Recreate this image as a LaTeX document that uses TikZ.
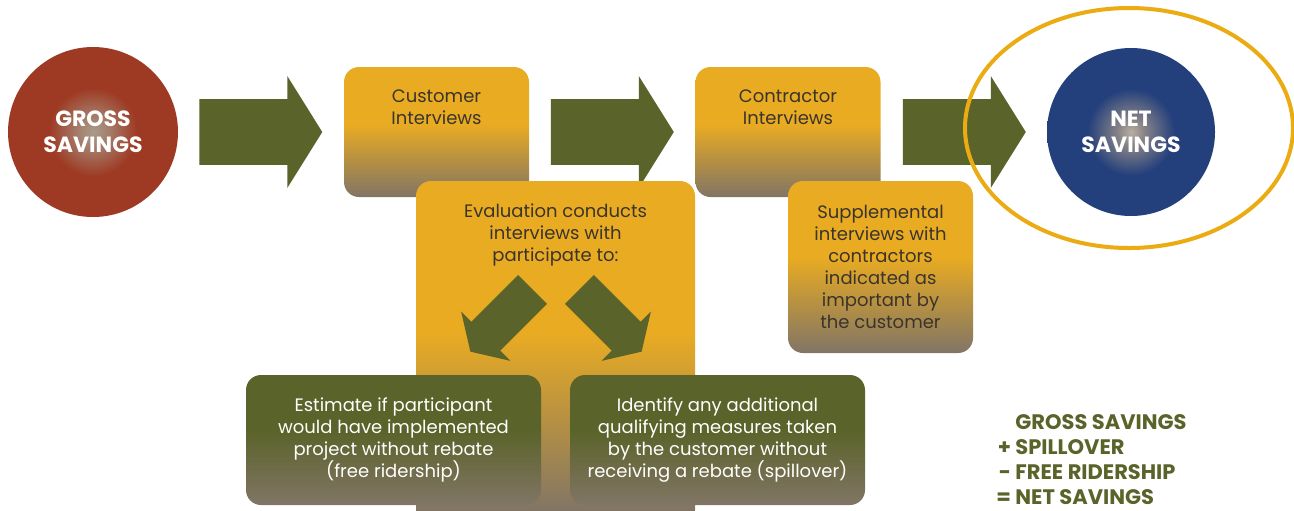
\documentclass[tikz,border=0pt]{standalone}
\usepackage{fontspec}
\setmainfont{Poppins}
\usetikzlibrary{shapes.arrows, positioning}

\definecolor{rust}{HTML}{9E3A23}
\definecolor{navy}{HTML}{233F7C}
\definecolor{glow}{HTML}{A89A8A}
\definecolor{gold}{HTML}{E9AB22}
\definecolor{taupe}{HTML}{817565}
\definecolor{olive}{HTML}{5A6329}
\definecolor{ring}{HTML}{EBAB12}
\definecolor{ink}{HTML}{3A342C}

\pgfdeclareverticalshading{goldfade}{100bp}{color(0bp)=(taupe); color(25bp)=(taupe); color(53bp)=(gold); color(100bp)=(gold)}
\pgfdeclareverticalshading{evalfade}{100bp}{color(0bp)=(taupe); color(27bp)=(taupe); color(53bp)=(gold); color(100bp)=(gold)}
\pgfdeclareverticalshading{olivefade}{100bp}{color(0bp)=(taupe); color(25bp)=(taupe); color(54bp)=(olive); color(100bp)=(olive)}
\pgfdeclareradialshading{grossglow}{\pgfpoint{0bp}{0bp}}{color(0bp)=(glow); color(4bp)=(glow!75!rust); color(13bp)=(rust); color(50bp)=(rust)}
\pgfdeclareradialshading{netglow}{\pgfpoint{0bp}{0bp}}{color(0bp)=(glow!80!white); color(4bp)=(glow!75!navy); color(13bp)=(navy); color(50bp)=(navy)}

\tikzset{
  bigarrow/.style={single arrow, fill=olive, inner xsep=0pt, inner ysep=16.25pt, minimum height=61.5pt,
    single arrow head extend=11.5pt, single arrow tip angle=116},
  smallarrow/.style={bigarrow, minimum height=44pt, inner ysep=10pt, single arrow head extend=7.25pt},
  savings/.style={circle, minimum size=85pt, inner sep=0pt,
    text=white, align=center, font=\bfseries\fontsize{11}{13}\selectfont},
  goldbox/.style={rounded corners=7.5pt, shading=goldfade, inner sep=0pt, text=ink, align=center,
    font=\fontsize{9}{11}\selectfont},
  olivebox/.style={rounded corners=7.5pt, shading=olivefade, inner sep=0pt, text=white, align=center,
    minimum width=147.5pt, minimum height=65pt, font=\fontsize{9}{11}\selectfont},
  boxlbl/.style={anchor=north, inner sep=0pt, text=ink, align=center, font=\fontsize{9}{11}\selectfont}
}

\begin{document}
\begin{tikzpicture}[x=0.5pt, y=0.5pt]
  \useasboundingbox (0,0) rectangle (1294,-510);
  \clip (0,0) rectangle (1294,-510);

  \node[savings, shading=grossglow] (gross) at (93,-132) {GROSS\\SAVINGS};
  \node[savings, shading=netglow, minimum size=84pt] (net) at (1131,-132) {NET\\SAVINGS};

  \node[bigarrow] (arr1) at (250.5,-132) {};
  \node[bigarrow] (arr2) at (602,-132) {};
  \node[bigarrow] (arr3) at (954,-132) {};

  \node[goldbox, minimum width=92.5pt, minimum height=65pt] (cust) at (436.5,-132) {};
  \node[boxlbl] (custlbl) at ([yshift=-11.5pt]cust.north) {Customer\\Interviews};
  \node[goldbox, minimum width=92.5pt, minimum height=65pt] (contr) at (788,-132) {};
  \node[boxlbl] (contrlbl) at ([yshift=-11.5pt]contr.north) {Contractor\\Interviews};

  \node[goldbox, shading=evalfade, minimum width=139.5pt, minimum height=172pt] (eval) at (555.5,-353) {};
  \node[boxlbl] (evallbl) at ([yshift=-11.5pt]eval.north) {Evaluation conducts\\interviews with\\participate to:};
  \node[goldbox, minimum width=92.5pt, minimum height=86pt] (supp) at (880.5,-267)
    {Supplemental\\interviews with\\contractors\\indicated as\\important by\\the customer};

  \node[smallarrow, rotate=-135] (diagl) at (506,-316) {};
  \node[smallarrow, rotate=-45] (diagr) at (606,-316) {};

  \node[olivebox] (freerid) at (393.5,-440)
    {Estimate if participant\\would have implemented\\project without rebate\\(free ridership)};
  \node[olivebox] (spill) at (717.5,-440)
    {Identify any additional\\qualifying measures taken\\by the customer without\\receiving a rebate (spillover)};

  \draw[ring, line width=2pt] (1129,-128) ellipse [x radius=82pt, y radius=60pt];

  \node[anchor=north west, inner sep=0pt, align=left, text=olive, font=\bfseries\fontsize{10.5}{12.5}\selectfont]
    (formula) at (1015,-414) {GROSS SAVINGS\\\llap{+ }SPILLOVER\\\llap{- }FREE RIDERSHIP\\\llap{= }NET SAVINGS};
\end{tikzpicture}
\end{document}
